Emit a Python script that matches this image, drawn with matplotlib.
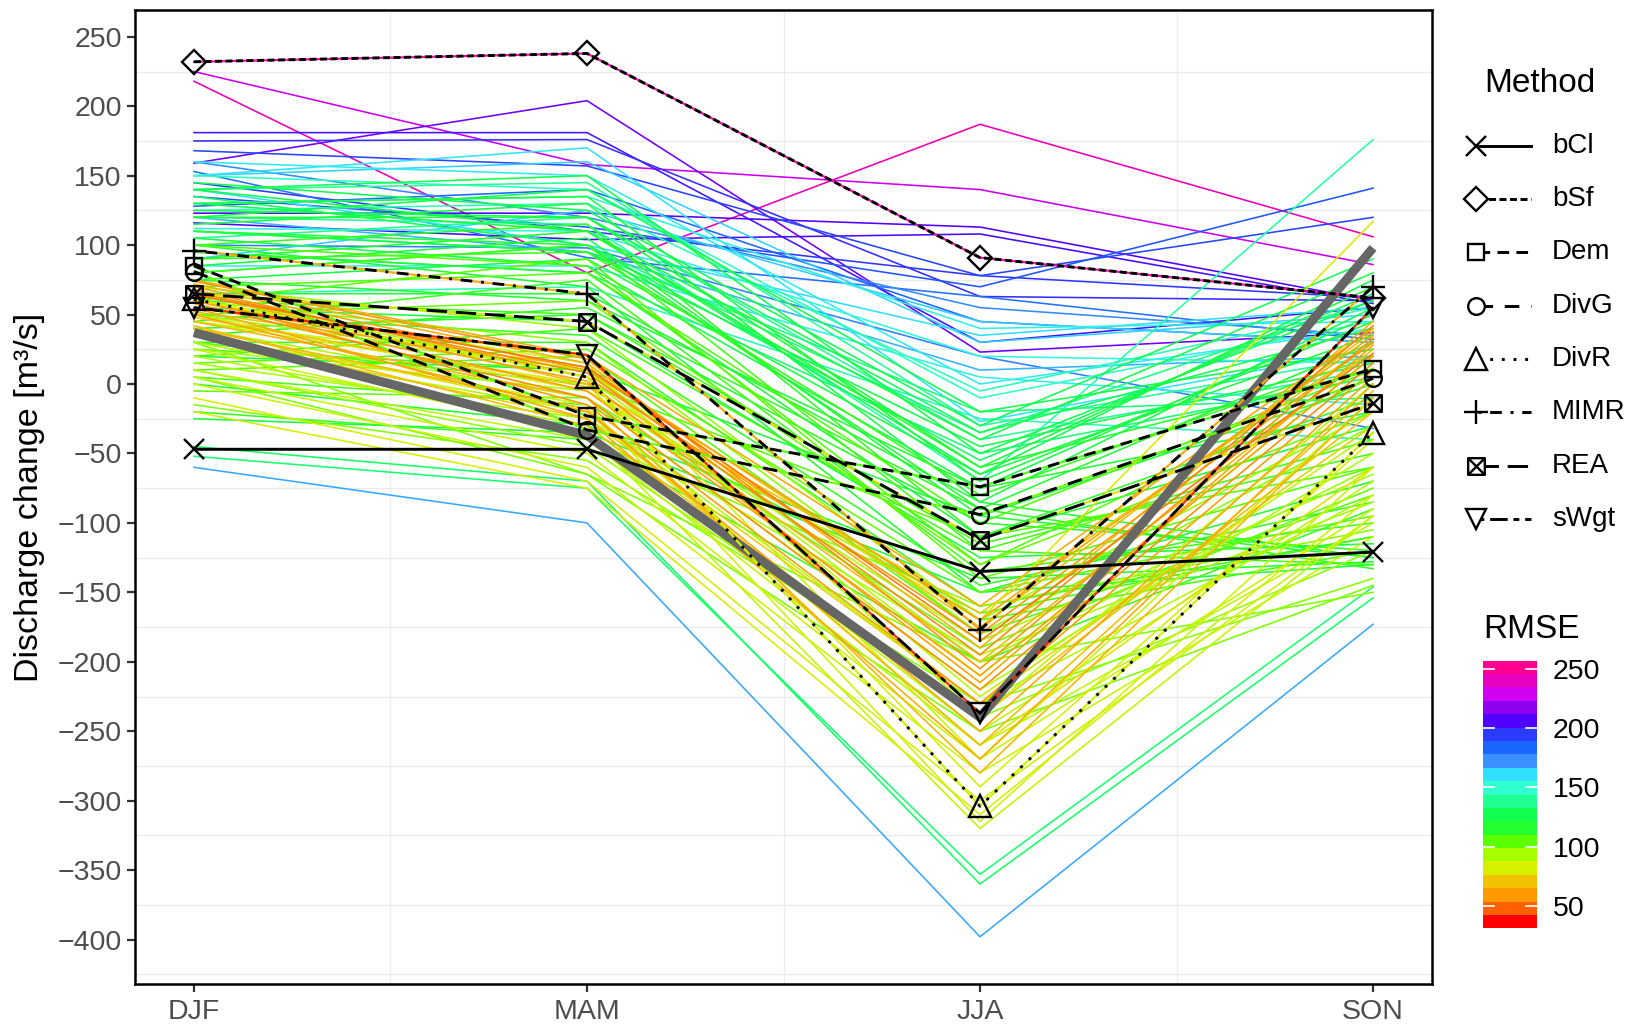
import numpy as np
import matplotlib
matplotlib.use("Agg")
import matplotlib.pyplot as plt
from matplotlib.colors import LinearSegmentedColormap, ListedColormap, Normalize
from matplotlib.lines import Line2D
from matplotlib.path import Path
import matplotlib.colorbar as mcolorbar

plt.rcParams['font.family'] = ['Liberation Sans', 'DejaVu Sans']

# ---------------- data ----------------
seasons = ["DJF", "MAM", "JJA", "SON"]

obs = [37, -37, -240, 98]

methods = ["bCl", "bSf", "Dem", "DivG", "DivR", "MIMR", "REA", "sWgt"]
method_djf = [-47, 232, 85, 81, 61, 96, 65, 55]
method_mam = [-47, 238, -23, -33, 5, 65, 45, 21]
method_jja = [-135, 91, -74, -94, -304, -177, -112, -237]
method_son = [-121, 62, 11, 4, -35, 70, -14, 55]
method_rmse = [115, 250, 105, 100, 80, 60, 75, 36]

member_rmse = [
    248, 232, 205, 215, 200, 195, 210, 207, 190, 182,
    178, 198, 185, 175, 160, 158, 155, 152, 165, 162,
    156, 170, 164, 168, 140, 145, 138, 142, 135, 132,
    130, 133, 148, 136, 144, 125, 120, 118, 115, 112,
    110, 108, 105, 103, 100, 122, 127, 116, 113, 111,
    107, 104, 119, 121, 124, 117, 114, 109, 106, 102,
    126, 123, 118, 112, 101, 129, 115, 110, 120, 128,
    114, 108, 105, 103, 122, 116, 111, 126, 107, 119,
    95, 92, 90, 88, 86, 85, 83, 82, 80, 78,
    79, 81, 84, 87, 89, 91, 93, 94, 96, 77,
    97, 76, 98, 85, 90, 82, 95, 60, 58, 55,
    62, 64, 57, 53, 56, 59, 61, 63, 66, 68,
    52, 65, 54, 67, 58, 70, 48,
]
member_djf = [
    218, 225, 181, 159, 175, 168, 123, 116, 135, 153,
    100, 145, 128, 160, 150, 160, 130, 112, 90, 140,
    85, -60, 150, 120, 140, 125, 105, 120, 110, -52,
    -45, 95, 150, 80, 65, 140, 130, 120, 110, 100,
    90, 80, 70, 60, 50, 130, 145, 100, 40, 30,
    20, 10, 85, 75, 110, 95, 65, 45, 25, 15,
    120, 105, 55, 35, -5, 135, 0, -20, -25, 125,
    90, 60, 100, 30, 115, 75, 50, 140, 5, 20,
    60, 50, 40, 30, 20, 10, 5, 0, -10, -20,
    45, 35, 25, 55, 65, 15, 70, 10, -15, 50,
    30, 40, 5, 45, 25, 60, 35, 75, 70, 68,
    72, 65, 60, 58, 62, 50, 55, 45, 52, 48,
    66, 40, 74, 42, 60, 35, 64,
]
member_mam = [
    80, 158, 181, 204, 176, 157, 123, 104, 113, 91,
    98, 110, 140, 120, 170, 150, 135, 110, 125, 100,
    85, -100, 160, 95, 145, 130, 120, 115, 95, -75,
    -70, 80, 140, 100, 70, 150, 135, 120, 100, 115,
    95, 100, 80, 90, 60, 110, 125, 70, 50, 30,
    40, 20, 105, 90, 95, 80, 65, 75, 10, 25,
    140, 85, 45, 55, -10, 100, -30, -40, -35, 120,
    110, 50, 85, 0, 130, 60, 35, 110, -15, 10,
    30, 10, -10, -20, -30, -40, -50, -60, -70, -75,
    0, -15, -35, 20, 5, -25, 40, -45, -55, -5,
    -65, -20, -65, 10, -5, 15, -40, 20, 10, 5,
    15, 0, -5, -10, -15, -20, -25, -10, 12, -2,
    8, -18, 18, -30, 2, -25, 12,
]
member_jja = [
    187, 140, 30, 23, 63, 78, 113, 108, 70, 63,
    20, 78, 45, 55, -27, 0, 40, 20, 45, 35,
    5, -398, 30, 10, -30, -5, -40, -70, -20, -353,
    -360, -50, -10, -35, -25, -50, -70, -60, -90, -110,
    -80, -120, -100, -140, -130, -40, -30, -150, -100, -160,
    -120, -180, -95, -65, -45, -110, -85, -135, -170, -150,
    -20, -75, -125, -90, -190, -55, -140, -200, -150, -35,
    -60, -115, -130, -110, -85, -75, -145, -65, -165, -95,
    -180, -200, -220, -230, -250, -260, -270, -280, -300, -310,
    -290, -315, -320, -240, -210, -195, -170, -240, -230, -170,
    -200, -260, -250, -225, -185, -270, -160, -160, -170, -180,
    -190, -200, -210, -220, -230, -250, -270, -280, -175, -165,
    -195, -260, -205, -240, -215, -230, -185,
]
member_son = [
    106, 86, 55, 37, 60, 120, 60, 58, 141, 32,
    -32, 62, 30, 35, 25, 40, 45, 15, 30, 55,
    -15, -173, 50, 20, 20, 55, 10, 176, -10, -146,
    -154, 5, 45, 60, -40, 60, 45, 70, 30, -10,
    20, -40, 10, -60, -20, 80, 90, -70, -120, -110,
    -130, -80, 0, 35, 15, -30, -125, -100, -120, -95,
    25, 50, -115, -133, -75, 65, -128, -90, -130, 40,
    10, -50, 5, -60, 55, -20, -85, 75, -110, -125,
    -30, -60, -50, -80, -70, -100, -90, -110, -95, -80,
    -40, -60, -95, 0, 20, -85, -20, -120, -140, 117,
    -150, -60, -145, -35, -65, -10, -105, 40, 35, 30,
    45, 25, 20, 15, 10, 5, 0, -10, 38, 30,
    42, -5, 33, -20, 28, -30, 22,
]

rmse_ticks = [50, 100, 150, 200, 250]
rmse_min, rmse_max = 31, 257

# ---------------- colours ----------------
bin_colors = [
    "#FF0000", "#FF6000", "#FF9900", "#F2C200", "#D6F000",
    "#A6FF00", "#5CFF00", "#22FF30", "#10FF50", "#20FF90",
    "#30FFD0", "#30E0FF", "#3A90FF", "#1A66FF", "#2C3CFF",
    "#5000FF", "#9000F0", "#D000F0", "#E800C0", "#FF0090",
]
cmap = LinearSegmentedColormap.from_list("rmse", bin_colors)
norm = Normalize(rmse_min, rmse_max)

W, H = 1631, 1024
fig = plt.figure(figsize=(W / 100, H / 100), dpi=100)


def fx(px):
    return px / W


def fy(py):
    return 1 - py / H


ax = fig.add_axes([fx(135), fy(984), fx(1432) - fx(135), fy(10.4) - fy(984)])
x = np.arange(len(seasons))

# members, high RMSE first so low-RMSE lines lie on top
order = sorted(range(len(member_rmse)), key=lambda i: -member_rmse[i])
for i in order:
    ax.plot(x, [member_djf[i], member_mam[i], member_jja[i], member_son[i]],
            color=cmap(norm(member_rmse[i])), lw=1.15, zorder=2,
            solid_joinstyle='miter')

# observed reference
ax.plot(x, obs, color="#666666", lw=6.5, zorder=3, solid_capstyle='butt',
        solid_joinstyle='miter')

# custom REA marker (square with cross)
rea_path = Path(
    [(-1, -1), (1, -1), (1, 1), (-1, 1), (-1, -1),
     (-1, -1), (1, 1), (-1, 1), (1, -1)],
    [Path.MOVETO, Path.LINETO, Path.LINETO, Path.LINETO, Path.CLOSEPOLY,
     Path.MOVETO, Path.LINETO, Path.MOVETO, Path.LINETO])

styles = {
    "bCl": dict(marker="x", ms=14, dashes=None),
    "bSf": dict(marker="D", ms=12.5, dashes=(2.4, 1.2)),
    "Dem": dict(marker="s", ms=11.5, dashes=(4, 2.5)),
    "DivG": dict(marker="o", ms=12, dashes=(5, 4)),
    "DivR": dict(marker="^", ms=16, dashes=(1, 3)),
    "MIMR": dict(marker="+", ms=17, dashes=(1, 3, 4, 3)),
    "REA": dict(marker=rea_path, ms=12, dashes=(7, 3)),
    "sWgt": dict(marker="v", ms=15, dashes=(2, 2, 6, 2)),
}

for k, m in enumerate(methods):
    vals = [method_djf[k], method_mam[k], method_jja[k], method_son[k]]
    st = styles[m]
    ax.plot(x, vals, color=cmap(norm(method_rmse[k])), lw=1.5, zorder=4)
    ln, = ax.plot(x, vals, color="black", lw=2.1, zorder=5)
    if st["dashes"] is not None:
        ln.set_dashes(st["dashes"])
    ax.plot(x, vals, ls="none", marker=st["marker"], ms=st["ms"],
            mfc="none", mec="black", mew=1.7, zorder=6)

# axes styling
ax.set_xlim(-0.15, 3.15)
ax.set_ylim(-432, 269)
ax.set_xticks(x)
ax.set_xticklabels(seasons)
ax.set_yticks(np.arange(-400, 251, 50))
ax.set_yticklabels([str(v).replace("-", "\u2212") for v in range(-400, 251, 50)])
ax.set_yticks(np.arange(-425, 269, 50), minor=True)
ax.set_xticks([0.5, 1.5, 2.5], minor=True)
ax.grid(False, which="major")
ax.grid(True, which="minor", color="#EBEBEB", lw=1.0, zorder=0)
ax.set_axisbelow(True)
ax.tick_params(which="minor", length=0)
ax.tick_params(which="major", length=5.5, width=1.6, color="#333333",
               labelsize=20.5, labelcolor="#4D4D4D", pad=4)
ax.tick_params(axis="x", pad=5)
for s in ax.spines.values():
    s.set_linewidth(1.8)
    s.set_color("black")
ax.set_ylabel("Discharge change [m\u00b3/s]", fontsize=24.5, color="black")
ax.yaxis.set_label_coords((45 - 135) / (1432 - 135), 0.5)

# ---------------- Method legend (manual) ----------------
fig.text(fx(1484), fy(83), "Method", fontsize=24, ha="left", va="center")
row_y = [146, 199, 252, 306, 359, 412, 466, 519]
for k, m in enumerate(methods):
    st = styles[m]
    yy = fy(row_y[k])
    ln = Line2D([fx(1478), fx(1531)], [yy, yy], transform=fig.transFigure,
                color="black", lw=2.1)
    if st["dashes"] is not None:
        ln.set_dashes(st["dashes"])
    fig.add_artist(ln)
    mk = Line2D([fx(1476)], [yy], transform=fig.transFigure, ls="none",
                marker=st["marker"], ms=st["ms"], mfc="white", mec="black",
                mew=1.7)
    fig.add_artist(mk)
    fig.text(fx(1552), yy, m, fontsize=20, ha="left", va="center")

# ---------------- RMSE colourbar ----------------
fig.text(fx(1483), fy(629), "RMSE", fontsize=24, ha="left", va="center")
cax = fig.add_axes([fx(1482.7), fy(928.3), fx(1537.3) - fx(1482.7),
                    fy(660.7) - fy(928.3)])
cb = mcolorbar.ColorbarBase(cax, cmap=ListedColormap(bin_colors), norm=norm,
                            orientation="vertical")
cb.outline.set_visible(False)
cb.set_ticks(rmse_ticks)
cb.set_ticklabels([str(t) for t in rmse_ticks])
cax.tick_params(length=0, pad=11, labelsize=20.5, labelcolor="black")
for t in rmse_ticks:
    cax.axhline(t, xmin=0, xmax=0.2, color="white", lw=1.2)
    cax.axhline(t, xmin=0.8, xmax=1.0, color="white", lw=1.2)

fig.savefig("out.png", dpi=100, facecolor="white")
